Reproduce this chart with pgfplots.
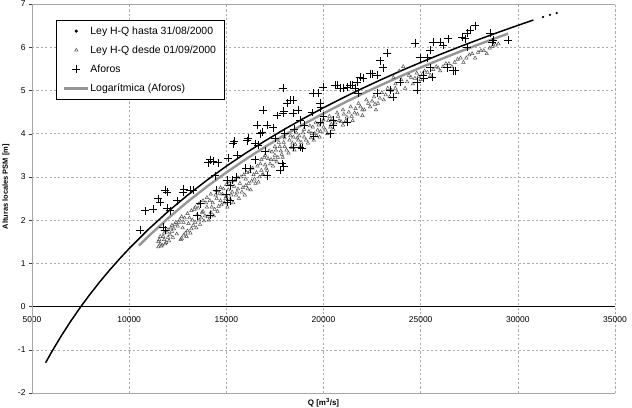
\documentclass[border=0pt]{standalone}
\usepackage{fontspec}
\setmainfont{Liberation Sans}
\usepackage{pgfplots}
\pgfplotsset{compat=1.18}
\usetikzlibrary{calc}
\definecolor{trend}{RGB}{150,150,150}
\definecolor{tri}{RGB}{80,80,80}
\begin{document}
\begin{tikzpicture}
\begin{axis}[
  name=ax,
  scale only axis, width=583bp, height=389bp,
  xmin=5000, xmax=35000, ymin=-2, ymax=7,
  xtick={5000,10000,15000,20000,25000,30000,35000},
  ytick={-2,-1,0,1,2,3,4,5,6,7},
  scaled ticks=false,
  hide obscured x ticks=false,
  hide obscured y ticks=false,
  /pgf/number format/1000 sep={},
  /pgf/number format/assume math mode=true,
  axis x line=middle, axis y line=left,
  axis line style={-},
  x axis line style={black},
  y axis line style={black!75},
  tick align=outside,
  major tick length=3bp,
  xtick style={draw=none},
  ytick style={black!75},
  tick label style={font=\fontsize{8.5}{9}\selectfont},
  xticklabel style={yshift=-4bp},
  grid=major,
  major grid style={gray!65, dash pattern=on 2.2pt off 2.2pt, line width=0.5pt},
  every axis x label/.style={at={(rel axis cs:0.5,-0.004)}, anchor=north, font=\fontsize{8}{9}\selectfont\bfseries},
  every axis y label/.style={at={(rel axis cs:-0.0326,0.53)}, rotate=90, anchor=south, font=\fontsize{7.5}{8}\selectfont\bfseries},
  xlabel={Q [m\textsuperscript{3}/s]},
  ylabel={Alturas locales PSM [m]},
  legend style={at={(0.041,0.958)}, anchor=north west, draw=black, line width=0.6pt,
    font=\fontsize{10.5}{12}\selectfont, row sep=6bp, inner xsep=7bp, inner ysep=4bp, fill=white,
    nodes={inner xsep=1bp}},
  legend cell align=left,
  legend image code/.code={\draw[mark repeat=2,mark phase=2,#1] plot coordinates {(0cm,0cm) (0.42cm,0cm) (0.84cm,0cm)};},
]
% Ley H-Q hasta 31/08/2000
\addplot[black, line width=1.5pt, mark=none,
  legend image code/.code={\fill[black] (0.42cm,0cm) circle (0.7pt);}] coordinates {
(5700,-1.300) (6000,-1.059) (6500,-0.683) (7000,-0.334) (7500,-0.010) (8000,0.293)
(8500,0.578) (9000,0.847) (9500,1.101) (10000,1.342) (11000,1.790) (12000,2.199)
(13000,2.575) (14000,2.923) (15000,3.248) (16000,3.551) (17000,3.836) (18000,4.105)
(19000,4.359) (20000,4.600) (21000,4.829) (22000,5.048) (23000,5.257) (24000,5.457)
(25000,5.648) (26000,5.833) (27000,6.010) (28000,6.181) (29000,6.346) (30000,6.505)
(30800,6.629)
};
\addlegendentry{Ley H-Q hasta 31/08/2000}
% Ley H-Q desde 01/09/2000
\addplot[only marks, mark=triangle, mark size=2pt, tri, mark options={line width=0.5pt}] coordinates {
(11500,1.38) (11500,1.50) (11600,1.45) (11600,1.62) (11700,1.42) (11800,1.55) (11800,1.70)
(11900,1.48) (12000,1.60) (12000,1.78) (12100,1.66) (12200,1.74) (12200,1.88) (12300,1.80)
(12400,1.95) (12500,1.86) (12600,2.00) (12700,1.58) (12700,2.08) (12800,1.65) (12800,1.95)
(12900,1.70) (13000,2.15) (13000,1.75) (13100,2.05) (13200,1.80) (13200,2.22) (13300,1.88)
(13400,2.30) (13400,1.95) (13500,2.12) (13600,2.00) (13600,2.38) (13700,2.05) (13800,2.45)
(13800,2.20) (13900,2.10) (14000,2.52) (14000,2.30) (14100,2.00) (14200,2.18) (14200,2.60)
(14300,2.40) (14400,2.25) (14500,2.68) (14500,2.50) (14600,2.32) (14700,2.75) (14700,2.45)
(14800,2.60) (14900,2.40) (15000,2.82) (15000,2.55) (15100,2.70) (15200,2.48) (15300,2.90)
(15300,2.65) (15400,2.78) (15500,2.58) (15600,2.98) (15600,2.72) (15700,2.85) (15800,2.65)
(15900,3.05) (16000,2.80) (16000,2.95) (16100,2.72) (16200,3.12) (16300,2.90) (16400,3.05)
(16500,2.85) (16600,3.25) (16700,3.00) (16800,3.40) (16800,3.15) (16900,3.05) (17000,3.50)
(17000,3.28) (17100,3.15) (17200,3.60) (17300,3.40) (17400,3.25) (17500,3.70) (17500,3.50)
(17600,3.35) (17700,3.80) (17800,3.60) (17900,3.45) (18000,3.90) (18000,3.70) (18200,3.55)
(18300,3.95) (18400,3.78) (18500,3.62) (18600,4.02) (18700,3.85) (18800,3.70) (19000,4.10)
(19000,3.92) (19200,3.78) (19300,4.18) (19400,4.00) (19500,3.85) (19600,4.25) (19700,4.08)
(19800,3.92) (20000,4.32) (20000,4.15) (20200,4.00) (20300,4.40) (20400,4.22) (20500,4.10)
(20700,4.48) (20800,4.30) (21000,4.20) (21000,4.55) (21200,4.38) (21400,4.62) (21500,4.30)
(21600,4.48) (21800,4.70) (22000,4.55) (22000,4.42) (22200,4.78) (22400,4.62) (22600,4.85)
(22700,4.55) (22800,4.70) (23000,4.95) (23100,4.78) (23300,5.05) (23400,4.85) (23600,5.30)
(23700,5.15) (23800,4.95) (23900,5.45) (24000,5.25) (24100,5.55) (24200,5.05) (24400,5.35)
(24600,5.15) (24800,5.40) (25000,5.25) (25200,5.45) (25500,5.35) (25800,5.55) (26000,5.45)
(26300,5.62) (26600,5.55) (26900,5.72) (27200,5.65) (27500,5.82) (27800,5.75) (28100,5.92)
(28400,5.85) (28700,6.02) (29000,6.08)
(11550,1.55) (11650,1.40) (11750,1.62) (11850,1.45) (11950,1.72) (12050,1.52) (12150,1.82)
(12250,1.60) (12350,1.90) (12450,1.68) (12550,1.95) (12650,1.55) (12750,1.82) (12850,2.05)
(12950,1.62) (13050,1.92) (13150,1.70) (13250,2.00) (13350,2.25) (13450,1.82) (13550,2.28)
(13650,1.90) (13750,2.18) (13850,1.98) (13950,2.40) (14050,2.08) (14150,2.45) (14250,2.30)
(14350,2.10) (14450,2.58) (14550,2.20) (14650,2.62) (14750,2.35) (14850,2.72) (14950,2.50)
(15050,2.30) (15150,2.85) (15250,2.58) (15350,2.40) (15450,2.92) (15550,2.65) (15650,2.50)
(15750,3.00) (15850,2.75) (15950,2.58) (16050,3.10) (16150,2.85) (16250,2.70) (16350,3.20)
(16450,2.95) (16550,3.10) (16650,2.88) (16750,3.30) (16850,3.05) (16950,3.45) (17050,3.20)
(17150,3.42) (17250,3.30) (17350,3.58) (17450,3.40) (17550,3.62) (17650,3.45) (17750,3.70)
(17850,3.52) (17950,3.80) (18100,3.62) (18250,3.85) (18350,3.68) (18450,3.92) (18550,3.75)
(18650,3.90) (18750,3.95) (18850,3.80) (18950,4.02) (19100,3.85) (19250,4.05) (19350,3.90)
(19450,4.15) (19550,4.00) (19650,3.95) (19750,4.20) (19850,4.05) (19950,4.25) (20100,4.08)
(20250,4.30) (20350,4.15) (20450,4.35) (20600,4.25) (20750,4.40) (20900,4.28) (21050,4.45)
(21150,4.30) (21300,4.50) (21450,4.40) (21650,4.58) (21750,4.45) (21900,4.62) (22100,4.55)
(22300,4.70) (22500,4.75) (22650,4.68) (22900,4.82) (23200,4.90) (23500,5.00) (23700,5.05)
(24300,5.20) (24500,5.30) (24700,5.28) (24900,5.32) (25100,5.38) (25350,5.42) (25650,5.48)
(25900,5.52) (26150,5.55) (26450,5.62) (26750,5.65) (27050,5.75) (27350,5.75) (27650,5.85)
(27950,5.88) (28250,5.92) (28550,5.98) (28850,6.05)
};
\addlegendentry{Ley H-Q desde 01/09/2000}
% Aforos
\addplot[only marks, mark=+, mark size=4pt, black, mark options={line width=0.6pt}] coordinates {
(10556,1.76) (10813,2.22) (11224,2.25) (11481,2.50) (11584,2.41) (11738,1.83) (11842,1.76)
(11842,2.69) (11944,2.64) (11944,2.27) (12099,2.22) (12459,2.45) (12767,2.64) (12800,2.72)
(13127,2.69) (13282,2.69) (13642,2.38) (14054,3.33) (14157,3.40) (14157,2.11) (14311,3.36)
(14414,3.03) (14568,3.33) (15031,2.41) (15031,2.92) (15083,3.43) (15185,2.80) (15185,2.45)
(15288,2.92) (15340,3.77) (15400,3.82) (15546,3.50) (16060,3.84) (16111,3.89) (16214,3.19)
(16471,3.77) (16574,4.19) (16626,3.73) (16728,4.00) (16830,4.03) (16883,4.54) (17088,3.03)
(17088,4.19) (17397,4.14) (17603,4.42) (17757,3.15) (17860,3.31) (17911,4.47) (17950,3.25)
(17911,5.05) (17950,4.52) (18117,4.70) (18272,4.77) (18426,4.77) (18426,4.47) (18426,3.68)
(18683,4.54) (18786,4.31) (18786,3.68) (18889,3.66) (19403,4.49) (19455,4.93) (19712,4.93)
(19815,4.70) (19850,4.60) (19815,4.26) (19969,5.07) (20329,4.00) (20483,4.31) (20586,5.12)
(20689,5.12) (20843,5.05) (20998,5.05) (21204,5.07) (21204,4.26) (21358,5.12) (21461,5.12)
(21615,5.05) (21718,5.19) (21769,4.93) (21872,5.30) (22026,5.28) (22387,5.39) (22490,5.39)
(22747,5.35) (22747,4.93) (22901,5.69) (23055,5.53) (23261,5.86) (23416,5.00) (23570,4.84)
(23930,5.19) (24702,6.09) (24805,5.19) (24805,5.00) (24959,5.76) (25113,5.35) (25150,5.28)
(25319,5.76) (25473,5.93) (25473,5.53) (25576,5.30) (25628,6.11) (25988,6.11) (26142,6.04)
(26348,5.53) (26399,6.20) (26657,5.46) (26759,5.46) (27119,6.23) (27274,6.20) (27377,6.32)
(27377,6.00) (27531,6.39) (27788,6.50) (28560,6.32) (28663,6.11) (28714,6.16) (29486,6.16)
(13500,2.10) (14500,2.70) (15000,2.60) (15500,3.00) (16000,3.20) (16500,3.40) (17000,3.60)
(17500,3.90) (18000,4.00) (18500,4.10) (19000,4.20) (19500,3.95) (20000,4.40) (20500,4.20)
};
\addlegendentry{Aforos}
% Logaritmica (Aforos)
\addplot[trend, line width=2.4pt, mark=none] coordinates {
(10500,1.410) (11000,1.629) (12000,2.042) (13000,2.423) (14000,2.775) (15000,3.102)
(16000,3.409) (17000,3.697) (18000,3.968) (19000,4.225) (20000,4.469) (21000,4.700)
(22000,4.922) (23000,5.133) (24000,5.335) (25000,5.529) (26000,5.715) (27000,5.894)
(28000,6.067) (29000,6.234) (29500,6.315)
};
\addlegendentry{Logarítmica (Aforos)}
% sparse tail of Ley H-Q hasta 31/08/2000
\addplot[forget plot, only marks, mark=*, mark size=0.9pt, black] coordinates {
(31300,6.70) (31650,6.75) (32000,6.79)
};
\draw[gray!70, line width=0.6pt] (rel axis cs:0,0) rectangle (rel axis cs:1,1);
\end{axis}
\pgfresetboundingbox
\useasboundingbox ($(ax.south west)+(-32bp,-15bp)$) rectangle ($(ax.north east)+(17bp,4bp)$);
\end{tikzpicture}
\end{document}
